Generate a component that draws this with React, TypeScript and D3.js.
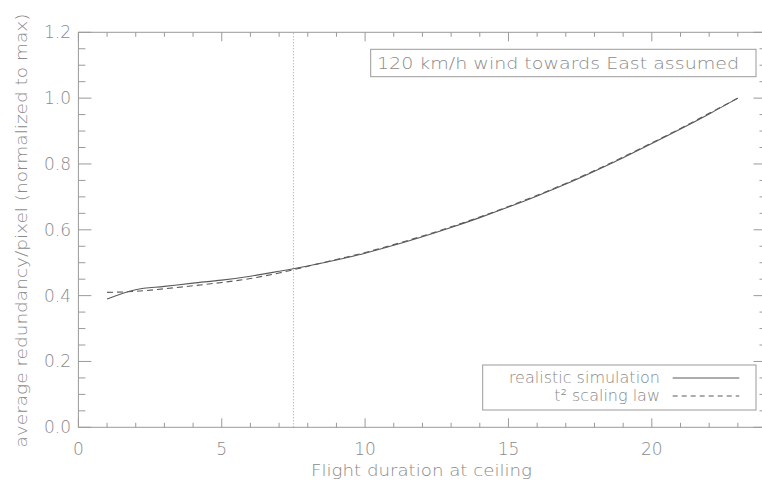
import React, { useEffect, useRef } from "react";
import * as d3 from "d3";

// flight duration at ceiling
const durations = [1, 2, 3, 4, 5, 6, 7, 8, 9, 10, 11, 12, 13, 14, 15, 16, 17, 18, 19, 20, 21, 22, 23];
// realistic simulation (normalized to max)
const simulation = [
  0.39, 0.418, 0.428, 0.438, 0.447, 0.459, 0.474, 0.49, 0.508, 0.529, 0.553, 0.579,
  0.607, 0.637, 0.669, 0.703, 0.739, 0.778, 0.819, 0.862, 0.906, 0.952, 1.0,
];
// t^2 scaling law
const scalingLaw = [
  0.41, 0.413, 0.421, 0.43, 0.44, 0.452, 0.469, 0.489, 0.51, 0.531, 0.555, 0.581,
  0.609, 0.639, 0.671, 0.705, 0.741, 0.78, 0.821, 0.864, 0.908, 0.954, 1.0,
];
const xMajorTicks = [0, 5, 10, 15, 20];
const yMajorTicks = [0, 0.2, 0.4, 0.6, 0.8, 1.0, 1.2];
const ceilingMark = 7.5;

const FONT = "'DejaVu Sans', sans-serif";
const TEXT = "#8a8a8a";
const AXIS = "#9a9a9a";
const LINE = "#5a5a5a";

const Chart = () => {
  const ref = useRef<SVGSVGElement>(null);

  useEffect(() => {
    const svg = d3.select(ref.current);
    svg.selectAll("*").remove();

    const left = 78.4, right = 766.5, top = 32.3, bottom = 427.3;
    const x = d3.scaleLinear().domain([0, 24]).range([left, right]);
    const y = d3.scaleLinear().domain([0, 1.2]).range([bottom, top]);

    const g = svg.append("g");

    // frame
    g.append("rect")
      .attr("x", left).attr("y", top)
      .attr("width", right - left).attr("height", bottom - top)
      .attr("fill", "none").attr("stroke", AXIS).attr("stroke-width", 1);

    const xMinor = d3.range(0, 25, 1);
    const yMinor = d3.range(0, 1.2001, 0.05);
    const isMajor = (v: number, step: number) => Math.abs(v / step - Math.round(v / step)) < 1e-6;

    const ticks = g.append("g").attr("stroke", AXIS).attr("stroke-width", 1);
    xMinor.forEach((v) => {
      const len = isMajor(v, 5) ? 9 : 4.5;
      ticks.append("line").attr("x1", x(v)).attr("x2", x(v)).attr("y1", bottom).attr("y2", bottom - len);
      ticks.append("line").attr("x1", x(v)).attr("x2", x(v)).attr("y1", top).attr("y2", top + len);
    });
    yMinor.forEach((v) => {
      const len = isMajor(v, 0.2) ? 13 : 7;
      ticks.append("line").attr("x1", left).attr("x2", left + len).attr("y1", y(v)).attr("y2", y(v));
      ticks.append("line").attr("x1", right).attr("x2", right - len).attr("y1", y(v)).attr("y2", y(v));
    });

    // tick labels
    g.append("g").selectAll("text").data(xMajorTicks).enter().append("text")
      .attr("x", (d) => x(d)).attr("y", 454.5)
      .attr("text-anchor", "middle")
      .attr("font-family", FONT).attr("font-size", 17).attr("font-weight", 200)
      .attr("fill", TEXT)
      .text((d) => d);

    g.append("g").selectAll("text").data(yMajorTicks).enter().append("text")
      .attr("x", 71).attr("y", (d) => y(d) + 6)
      .attr("text-anchor", "end")
      .attr("font-family", FONT).attr("font-size", 17).attr("font-weight", 200)
      .attr("fill", TEXT)
      .text((d) => d3.format(".1f")(d));

    // axis titles
    g.append("text")
      .attr("x", 421.5).attr("y", 476)
      .attr("text-anchor", "middle")
      .attr("font-family", FONT).attr("font-size", 16).attr("font-weight", 200)
      .attr("fill", TEXT)
      .attr("textLength", 221).attr("lengthAdjust", "spacingAndGlyphs")
      .text("Flight duration at ceiling");

    g.append("text")
      .attr("transform", "translate(27,230.5) rotate(-90)")
      .attr("text-anchor", "middle")
      .attr("font-family", FONT).attr("font-size", 16).attr("font-weight", 200)
      .attr("fill", TEXT)
      .attr("textLength", 434).attr("lengthAdjust", "spacingAndGlyphs")
      .text("average redundancy/pixel (normalized to max)");

    // vertical dotted mark
    g.append("line")
      .attr("x1", x(ceilingMark)).attr("x2", x(ceilingMark))
      .attr("y1", bottom).attr("y2", top)
      .attr("stroke", "#a0a0a0").attr("stroke-width", 1)
      .attr("stroke-dasharray", "1,2");

    const line = d3.line<number>()
      .x((_, i) => x(durations[i]))
      .y((d) => y(d))
      .curve(d3.curveMonotoneX);

    g.append("path").datum(scalingLaw)
      .attr("d", line).attr("fill", "none")
      .attr("stroke", LINE).attr("stroke-width", 1.1)
      .attr("stroke-dasharray", "6,4");

    g.append("path").datum(simulation)
      .attr("d", line).attr("fill", "none")
      .attr("stroke", LINE).attr("stroke-width", 1.1);

    // annotation box
    g.append("rect")
      .attr("x", 370.7).attr("y", 49.3).attr("width", 385.3).attr("height", 27.4)
      .attr("fill", "white").attr("stroke", AXIS);
    g.append("text")
      .attr("x", 377).attr("y", 68.5)
      .attr("font-family", FONT).attr("font-size", 16).attr("font-weight", 200)
      .attr("fill", TEXT)
      .attr("textLength", 362).attr("lengthAdjust", "spacingAndGlyphs")
      .text("120 km/h wind towards East assumed");

    // legend
    g.append("rect")
      .attr("x", 482.7).attr("y", 365).attr("width", 273.3).attr("height", 45)
      .attr("fill", "white").attr("stroke", AXIS);
    const legend = [
      { label: "realistic simulation", dash: null, y: 383 },
      { label: "t² scaling law", dash: "5,4", y: 401 },
    ];
    legend.forEach((l) => {
      g.append("text")
        .attr("x", 660).attr("y", l.y)
        .attr("text-anchor", "end")
        .attr("font-family", FONT).attr("font-size", 16).attr("font-weight", 200)
        .attr("fill", TEXT)
        .text(l.label);
      g.append("line")
        .attr("x1", 672.7).attr("x2", 739.3)
        .attr("y1", l.y - 5).attr("y2", l.y - 5)
        .attr("stroke", LINE).attr("stroke-width", 1)
        .attr("stroke-dasharray", l.dash);
    });
  }, []);

  return <svg ref={ref} width={762} height={481} style={{ display: "block" }} />;
};

export default function App() {
  return (
    <div style={{ position: "absolute", left: 0, top: 0, background: "white" }}>
      <Chart />
    </div>
  );
}
